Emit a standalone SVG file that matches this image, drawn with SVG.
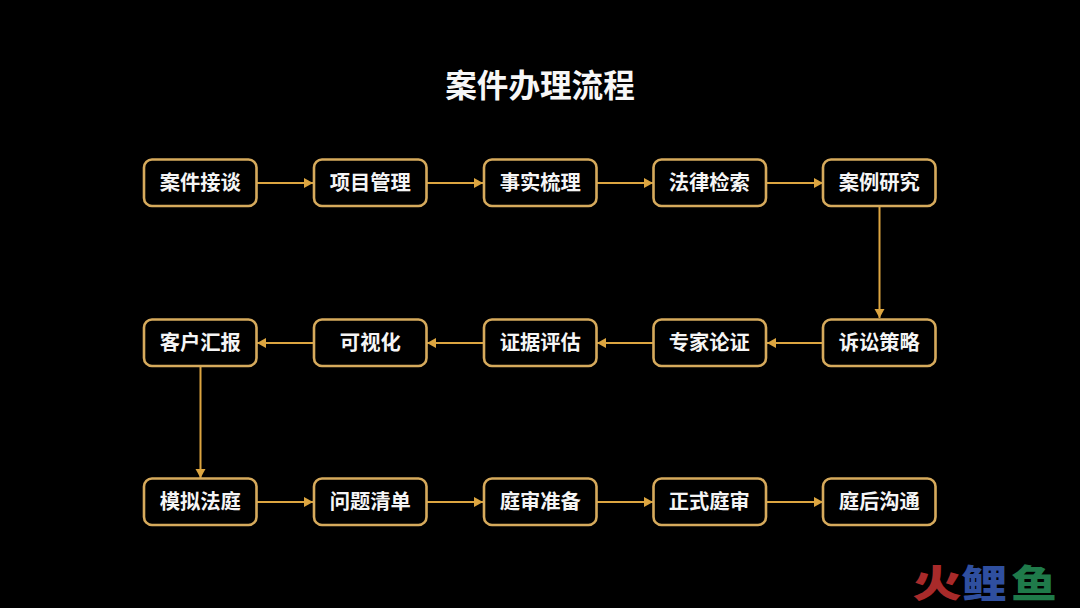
<svg xmlns="http://www.w3.org/2000/svg" width="1080" height="608" viewBox="0 0 1080 608">
<style>
text{font-family:"Noto Sans CJK SC","Noto Sans",sans-serif;text-anchor:middle}
.b{fill:#000;stroke:#d6aa5c;stroke-width:2.6}
.t{font-size:20.300px;font-weight:700;fill:#f5f5f5}
.c{stroke:#dca540;stroke-width:2;fill:none;marker-end:url(#a)}
</style>
<defs>
<marker id="a" markerUnits="userSpaceOnUse" markerWidth="10" markerHeight="11" refX="9" refY="5.500" orient="auto"><path d="M0 0.500L9 5.500L0 10.500Z" fill="#dca540"/></marker>
<rect id="r" width="112.500" height="46.500" rx="8"/>
</defs>
<rect width="1080" height="608" fill="#000"/>
<text x="540" y="96.500" font-size="31.600" font-weight="700" fill="#f7f7f7">案件办理流程</text>
<g id="connectors">
<path class="c" d="M257 183H313"/><path class="c" d="M427 183H483"/><path class="c" d="M597 183H653"/><path class="c" d="M767 183H823"/>
<path class="c" d="M879.500 206V318"/>
<path class="c" d="M823 343H767"/><path class="c" d="M653 343H597"/><path class="c" d="M483 343H427"/><path class="c" d="M313 343H257"/>
<path class="c" d="M200.500 366V478"/>
<path class="c" d="M257 502H313"/><path class="c" d="M427 502H483"/><path class="c" d="M597 502H653"/><path class="c" d="M767 502H823"/>
</g>
<g id="n1"><use href="#r" x="144" y="159.500" class="b"/><text class="t" x="200.300" y="190">案件接谈</text></g>
<g id="n2"><use href="#r" x="314" y="159.500" class="b"/><text class="t" x="370.300" y="190">项目管理</text></g>
<g id="n3"><use href="#r" x="484" y="159.500" class="b"/><text class="t" x="540.300" y="190">事实梳理</text></g>
<g id="n4"><use href="#r" x="653.500" y="159.500" class="b"/><text class="t" x="709.300" y="190">法律检索</text></g>
<g id="n5"><use href="#r" x="823" y="159.500" class="b"/><text class="t" x="879.300" y="190">案例研究</text></g>
<g id="n6"><use href="#r" x="823" y="319.500" class="b"/><text class="t" x="879.300" y="350">诉讼策略</text></g>
<g id="n7"><use href="#r" x="653.500" y="319.500" class="b"/><text class="t" x="709.300" y="350">专家论证</text></g>
<g id="n8"><use href="#r" x="484" y="319.500" class="b"/><text class="t" x="540.300" y="350">证据评估</text></g>
<g id="n9"><use href="#r" x="314" y="319.500" class="b"/><text class="t" x="370.300" y="350">可视化</text></g>
<g id="n10"><use href="#r" x="144" y="319.500" class="b"/><text class="t" x="200.300" y="350">客户汇报</text></g>
<g id="n11"><use href="#r" x="144" y="478.500" class="b"/><text class="t" x="200.300" y="509">模拟法庭</text></g>
<g id="n12"><use href="#r" x="314" y="478.500" class="b"/><text class="t" x="370.300" y="509">问题清单</text></g>
<g id="n13"><use href="#r" x="484" y="478.500" class="b"/><text class="t" x="540.300" y="509">庭审准备</text></g>
<g id="n14"><use href="#r" x="653.500" y="478.500" class="b"/><text class="t" x="709.300" y="509">正式庭审</text></g>
<g id="n15"><use href="#r" x="823" y="478.500" class="b"/><text class="t" x="879.300" y="509">庭后沟通</text></g>
<g id="logo" font-size="38" font-weight="900">
<text transform="translate(937 597) scale(1.3 1)" fill="#a82a2a">火</text>
<text transform="translate(984 597) scale(1.2 1)" fill="#2f4f9f">鲤</text>
<text transform="translate(1034 597) scale(1.2 1)" fill="#1f7a4a">鱼</text>
</g>
</svg>
